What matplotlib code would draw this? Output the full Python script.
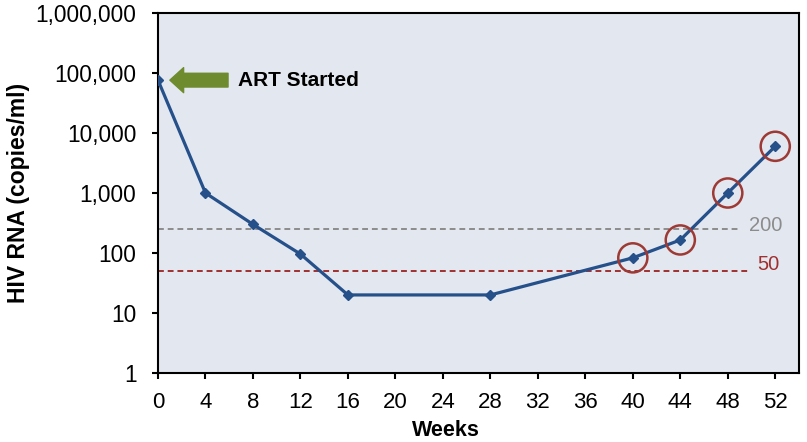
import matplotlib
matplotlib.use("Agg")
import matplotlib.pyplot as plt

weeks = [0, 4, 8, 12, 16, 28, 40, 44, 48, 52]
rna = [76000, 1000, 300, 96, 20, 20, 83, 165, 1000, 6000]
circled_weeks = [40, 44, 48, 52]
circled_rna = [83, 165, 1000, 6000]
x_ticks = list(range(0, 53, 4))
y_ticks = [1, 10, 100, 1000, 10000, 100000, 1000000]
y_labels = ["1", "10", "100", "1,000", "10,000", "100,000", "1,000,000"]
thr_200_level = 250
thr_50_level = 50

plt.rcParams['font.family'] = ['Liberation Sans', 'DejaVu Sans']

W, H = 807, 442
fig = plt.figure(figsize=(W/100, H/100), dpi=100)
ax = fig.add_axes([158/W, 1-373/H, (799-158)/W, (373-13)/H])
ax.set_facecolor('#E3E7EF')

ax.set_yscale('log')
ax.set_ylim(1, 1e6)
ax.set_xlim(0, 54)

ax.plot([0, 49], [thr_200_level]*2, color='#8C8C8C', lw=1.4, dashes=(3, 2))
ax.plot([0, 49.7], [thr_50_level]*2, color='#A03030', lw=1.4, dashes=(3, 2))
ax.text(51.2, 282, "200", color='#8C8C8C', fontsize=14.5, va='center', ha='center')
ax.text(51.4, 65, "50", color='#A03030', fontsize=14.5, va='center', ha='center')

ax.plot(weeks, rna, color='#25508A', lw=2.3, marker='D', ms=5, mfc='#25508A', mec='#25508A', zorder=3)
ax.scatter(circled_weeks, circled_rna, s=440, facecolors='none', edgecolors='#9E3A35', linewidths=1.8, zorder=4)

ax.annotate("", xy=(1.0, 76000), xytext=(5.9, 76000),
            arrowprops=dict(arrowstyle='simple,head_length=0.55,head_width=1.0,tail_width=0.55',
                            color='#6E8B2E', shrinkA=0, shrinkB=0, mutation_scale=18))
ax.text(6.7, 76000, "ART Started", fontsize=15, fontweight='bold', va='center', ha='left')

ax.set_xticks(x_ticks)
ax.set_xticklabels([str(v) for v in x_ticks], fontsize=16)
ax.set_yticks(y_ticks)
ax.set_yticklabels(y_labels, fontsize=16.3)
ax.minorticks_off()
ax.tick_params(axis='both', direction='out', length=4.5, width=1.5)
ax.tick_params(axis='x', pad=9)
ax.tick_params(axis='y', pad=11)
for s in ax.spines.values():
    s.set_linewidth(1.5)
    s.set_color('black')

fig.text(446/W, 1-431/H, "Weeks", fontsize=15.5, fontweight='bold', ha='center', va='center')
fig.text(19/W, 1-193/H, "HIV RNA (copies/ml)", fontsize=16.5, fontweight='bold',
         ha='center', va='center', rotation=90)

fig.savefig("out.png", dpi=100)
